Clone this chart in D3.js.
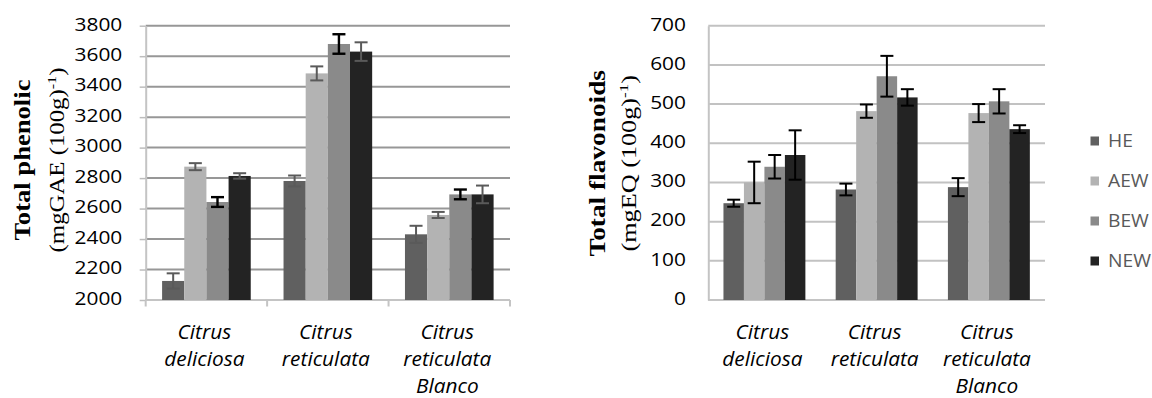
<!DOCTYPE html>
<html>
<head>
<meta charset="utf-8">
<script src="https://cdn.jsdelivr.net/npm/d3@7/dist/d3.min.js"></script>
<style>
  html, body { margin: 0; padding: 0; background: #fff; }
  svg { display: block; }
</style>
</head>
<body>
<svg id="chart" width="1152" height="398"></svg>
<script>
// ---- data ----
const categories = [["Citrus", "deliciosa"], ["Citrus", "reticulata"], ["Citrus", "reticulata", "Blanco"]];
const series = ["HE", "AEW", "BEW", "NEW"];

// Total phenolic, mgGAE (100 g)^-1
const phenolicHE  = [2125, 2781, 2431];
const phenolicAEW = [2875, 3487, 2558];
const phenolicBEW = [2643, 3680, 2693];
const phenolicNEW = [2814, 3630, 2693];
const phenolicErrHE  = [50, 36, 56];
const phenolicErrAEW = [23, 46, 20];
const phenolicErrBEW = [32, 64, 32];
const phenolicErrNEW = [18, 61, 58];
const phenolicTicks = [2000, 2200, 2400, 2600, 2800, 3000, 3200, 3400, 3600, 3800];

// Total flavonoids, mgEQ (100 g)^-1
const flavHE  = [247, 282, 288];
const flavAEW = [300, 482, 477];
const flavBEW = [340, 571, 507];
const flavNEW = [370, 517, 436];
const flavErrHE  = [9, 15, 23];
const flavErrAEW = [53, 17, 23];
const flavErrBEW = [30, 52, 31];
const flavErrNEW = [63, 21, 10];
const flavTicks = [0, 100, 200, 300, 400, 500, 600, 700];

// ---- styles ----
const colors = { HE: "#606060", AEW: "#b3b3b3", BEW: "#8a8a8a", NEW: "#232323" };
const sansFont = "'Open Sans', 'Liberation Sans', sans-serif";
const serif = "'Liberation Serif', 'Times New Roman', serif";
const SX = 1.16; // horizontal widening of tick labels

const svg = d3.select("#chart");

function buildRows(means, errs) {
  return categories.map((c, i) => ({
    cat: i,
    values: series.map((s, k) => ({ s, v: means[k][i], e: errs[k][i] }))
  }));
}

function drawPanel(opt) {
  const g = svg.append("g");
  const x0 = d3.scaleBand().domain(d3.range(categories.length))
    .range([opt.left, opt.right]).paddingInner(0).paddingOuter(0);
  const x1 = d3.scaleBand().domain(series)
    .range([0, x0.bandwidth()]).paddingInner(0).paddingOuter(0.74);
  const y = d3.scaleLinear().domain(opt.domain).range([opt.bottom, opt.top]);

  // gridlines
  g.append("g").selectAll("line").data(opt.ticks).join("line")
    .attr("x1", opt.left).attr("x2", opt.right)
    .attr("y1", d => y(d)).attr("y2", d => y(d))
    .attr("stroke", opt.gridColor).attr("stroke-width", 2);

  // y axis
  const yAxis = g.append("g").attr("transform", `translate(${opt.left},0)`)
    .call(d3.axisLeft(y).tickValues(opt.ticks).tickSize(opt.yTickSize).tickSizeOuter(0).tickFormat(d3.format("d")));
  yAxis.select(".domain").attr("stroke", "#c4c4c4").attr("stroke-width", 2);
  yAxis.selectAll(".tick line").attr("stroke", "#bdbdbd").attr("stroke-width", 1.5);
  yAxis.selectAll(".tick text")
    .attr("font-family", sansFont).attr("font-size", 18).attr("fill", "#000")
    .attr("text-anchor", "end")
    .attr("x", -opt.labelGap / SX).attr("dy", "0.24em")
    .attr("transform", `scale(${SX},1)`);

  // bottom axis line and category boundary ticks
  g.append("line").attr("x1", opt.left).attr("x2", opt.right)
    .attr("y1", opt.bottom).attr("y2", opt.bottom)
    .attr("stroke", "#c4c4c4").attr("stroke-width", 2);
  if (opt.xTicks) {
    const bounds = x0.domain().map(d => x0(d)).concat([opt.right]);
    g.append("g").selectAll("line").data(bounds).join("line")
      .attr("x1", d => d).attr("x2", d => d)
      .attr("y1", opt.bottom).attr("y2", opt.bottom + 6.5)
      .attr("stroke", "#c4c4c4").attr("stroke-width", 2);
  }

  // bars
  const rows = buildRows(opt.means, opt.errs);
  const groups = g.append("g").selectAll("g").data(rows).join("g")
    .attr("transform", d => `translate(${x0(d.cat)},0)`);
  groups.selectAll("rect").data(d => d.values).join("rect")
    .attr("x", d => x1(d.s)).attr("width", x1.bandwidth())
    .attr("y", d => y(d.v)).attr("height", d => y(opt.domain[0]) - y(d.v))
    .attr("fill", d => colors[d.s]);

  // error bars
  const cap = 6.5;
  const eb = groups.selectAll("g.err").data(d => d.values).join("g").attr("class", "err")
    .attr("stroke", d => opt.errColor(d.s)).attr("stroke-width", d => opt.errWidth(d.s))
    .attr("transform", d => `translate(${x1(d.s) + x1.bandwidth() / 2},0)`);
  eb.append("line").attr("y1", d => y(d.v + d.e)).attr("y2", d => y(d.v - d.e));
  eb.append("line").attr("x1", -cap).attr("x2", cap).attr("y1", d => y(d.v + d.e)).attr("y2", d => y(d.v + d.e));
  eb.append("line").attr("x1", -cap).attr("x2", cap).attr("y1", d => y(d.v - d.e)).attr("y2", d => y(d.v - d.e));

  // category labels
  const catLabels = g.append("g").selectAll("g").data(categories).join("g")
    .attr("transform", (d, i) => `translate(${x0(i) + x0.bandwidth() / 2 - 2},0) scale(1.07,1)`);
  catLabels.selectAll("text").data(d => d).join("text")
    .attr("x", 0).attr("y", (d, i) => 339 + i * 27)
    .attr("text-anchor", "middle")
    .attr("font-family", sansFont).attr("font-style", "italic").attr("font-size", 19.5)
    .attr("fill", "#000").text(d => d);

  // axis title (two rotated lines)
  function title(xBase, size, weight, target, build) {
    const t = g.append("text")
      .attr("font-family", serif).attr("font-size", size).attr("font-weight", weight)
      .attr("text-anchor", "middle").attr("fill", "#000");
    build(t);
    const s = target / t.node().getComputedTextLength();
    t.attr("transform", `translate(${xBase},${opt.titleY}) rotate(-90) scale(${s},1)`);
  }
  title(opt.title1X, 23, "bold", opt.title1Len, t => t.text(opt.title1));
  title(opt.title2X, 20, "normal", opt.title2Len, t => {
    t.append("tspan").text(opt.title2);
    t.append("tspan").attr("font-size", 13).attr("dy", -8).text("-1");
    t.append("tspan").attr("dy", 8).text(")");
  });
}

drawPanel({
  left: 145.7, right: 510, top: 25.7, bottom: 300,
  domain: [2000, 3800], ticks: phenolicTicks,
  means: [phenolicHE, phenolicAEW, phenolicBEW, phenolicNEW],
  errs: [phenolicErrHE, phenolicErrAEW, phenolicErrBEW, phenolicErrNEW],
  gridColor: "#979797", yTickSize: 6, labelGap: 23.4, xTicks: true,
  errColor: s => (s === "BEW" ? "#000" : "#5a5a5a"),
  errWidth: s => (s === "BEW" ? 2.4 : 2),
  title1: "Total phenolic", title2: "(mgGAE (100g)",
  title1X: 29.5, title2X: 64, titleY: 160, title1Len: 161, title2Len: 185
});

drawPanel({
  left: 708.3, right: 1045, top: 25.7, bottom: 300,
  domain: [0, 700], ticks: flavTicks,
  means: [flavHE, flavAEW, flavBEW, flavNEW],
  errs: [flavErrHE, flavErrAEW, flavErrBEW, flavErrNEW],
  gridColor: "#c2c2c2", yTickSize: 0, labelGap: 22.3, xTicks: false,
  errColor: () => "#000", errWidth: () => 2,
  title1: "Total flavonoids", title2: "(mgEQ (100g)",
  title1X: 605, title2X: 636, titleY: 163.3, title1Len: 186.7, title2Len: 176.7
});

// legend
const legend = svg.append("g").attr("transform", "translate(1090.5,141)");
const li = legend.selectAll("g").data(series).join("g")
  .attr("transform", (d, i) => `translate(0,${i * 40})`);
li.append("rect").attr("x", 0).attr("y", -4.5).attr("width", 8.5).attr("height", 9)
  .attr("fill", d => colors[d]);
li.append("text").attr("x", 17.5 / 1.1).attr("dy", "0.36em")
  .attr("transform", "scale(1.1,1)")
  .attr("font-family", sansFont).attr("font-size", 17.5).attr("fill", "#595959")
  .text(d => d);
</script>
</body>
</html>
